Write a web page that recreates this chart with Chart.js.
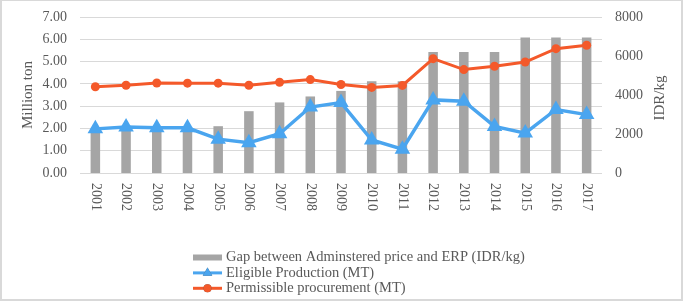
<!DOCTYPE html>
<html>
<head>
<meta charset="utf-8">
<script src="https://cdn.jsdelivr.net/npm/chart.js@4.4.1/dist/chart.umd.min.js"></script>
<style>
    html, body { margin: 0; padding: 0; background: #fff; }
    #wrap { position: relative; width: 685px; height: 304px; }
    #frame { position: absolute; left: 0; top: 0; width: 683px; height: 301px; border: 1px solid #d9d9d9; border-width: 1px 2px 2px 2px; box-sizing: border-box; pointer-events: none; }
</style>
</head>
<body>
<div id="wrap">
    <canvas id="gapchart" width="685" height="304"></canvas>
    <div id="frame"></div>
</div>
<script>
const years = ["2001", "2002", "2003", "2004", "2005", "2006", "2007", "2008", "2009",
    "2010", "2011", "2012", "2013", "2014", "2015", "2016", "2017"];
// IDR/kg, right axis
const gapPrice = [2200, 2200, 2200, 2200, 2400, 3170, 3620, 3925, 4210,
    4700, 4700, 6210, 6210, 6210, 6950, 6950, 6950];
// million ton, left axis
const eligibleProduction = [1.98, 2.06, 2.03, 2.03, 1.52, 1.36, 1.76, 2.96, 3.16,
    1.48, 1.07, 3.28, 3.22, 2.09, 1.79, 2.85, 2.62];
const permissibleProcurement = [3.87, 3.94, 4.04, 4.03, 4.03, 3.94, 4.07, 4.19, 3.97,
    3.84, 3.93, 5.13, 4.64, 4.79, 4.98, 5.58, 5.73];

const seriesNames = [
    "Gap between Adminstered price and ERP (IDR/kg)",
    "Eligible Production (MT)",
    "Permissible procurement (MT)",
];
const rightTitle = "IDR/kg";

const textColor = "#595959";
const fontFamily = "'Liberation Serif', 'Times New Roman', serif";

// x labels and the right title read the other way round from what
// Chart.js does, so they are drawn here instead of by the scales
const rotatedText = {
    id: "rotatedText",
    afterDraw(chart) {
        const ctx = chart.ctx;
        const xScale = chart.scales.x;
        const area = chart.chartArea;
        ctx.save();
        ctx.fillStyle = textColor;
        ctx.font = "14px " + fontFamily;
        ctx.textAlign = "left";
        ctx.textBaseline = "middle";
        chart.data.labels.forEach((label, i) => {
            ctx.save();
            ctx.translate(xScale.getPixelForValue(i), area.bottom + 10);
            ctx.rotate(Math.PI / 2);
            ctx.fillText(label, 0, 0);
            ctx.restore();
        });

        ctx.font = "15px " + fontFamily;
        ctx.textAlign = "center";
        ctx.translate(chart.scales.yRight.right - 25, (area.top + area.bottom) / 2 + 3);
        ctx.rotate(-Math.PI / 2);
        ctx.fillText(rightTitle, 0, 0);
        ctx.restore();
    },
};

// stacked legend under the plot
const stackedLegend = {
    id: "stackedLegend",
    afterDraw(chart) {
        const ctx = chart.ctx;
        const left = 193, width = 29, top = 257.5, step = 15.4;
        ctx.save();
        ctx.font = "14.5px " + fontFamily;
        ctx.textBaseline = "middle";
        ctx.textAlign = "left";
        chart.data.datasets.forEach((ds, i) => {
            const y = top + i * step;
            if (ds.type === "bar") {
                ctx.fillStyle = ds.backgroundColor;
                ctx.fillRect(left, y - 3, width, 6);
            } else {
                ctx.strokeStyle = ds.borderColor;
                ctx.lineWidth = 3;
                ctx.beginPath();
                ctx.moveTo(left, y);
                ctx.lineTo(left + width, y);
                ctx.stroke();
                Chart.helpers.drawPoint(ctx, {
                    pointStyle: ds.pointStyle,
                    radius: ds.pointStyle === "triangle" ? 5.5 : 4,
                    rotation: 0,
                    borderWidth: 0,
                }, left + width / 2, y);
                ctx.fillStyle = ds.borderColor;
                ctx.fill();
            }
            ctx.fillStyle = textColor;
            ctx.fillText(ds.label, left + width + 4, y);
        });
        ctx.restore();
    },
};

// y scales add tick padding above the top label; drop it so the plot starts higher
const fixYScale = (width) => (scale) => {
    scale.width = width;
    scale.paddingTop = 0;
    scale.paddingBottom = 0;
};

const ctx = document.getElementById("gapchart").getContext("2d");

new Chart(ctx, {
    data: {
        labels: years,
        datasets: [
            {
                type: "bar",
                label: seriesNames[0],
                data: gapPrice,
                yAxisID: "yRight",
                backgroundColor: "#a5a5a5",
                categoryPercentage: 1,
                barPercentage: 0.31,
                order: 3,
            },
            {
                type: "line",
                label: seriesNames[1],
                data: eligibleProduction,
                yAxisID: "yLeft",
                borderColor: "#4aa5ef",
                backgroundColor: "#4aa5ef",
                borderWidth: 3.5,
                pointStyle: "triangle",
                pointRadius: 9,
                pointBorderWidth: 0,
                tension: 0,
                order: 2,
            },
            {
                type: "line",
                label: seriesNames[2],
                data: permissibleProcurement,
                yAxisID: "yLeft",
                borderColor: "#f4592a",
                backgroundColor: "#f4592a",
                borderWidth: 3,
                pointStyle: "circle",
                pointRadius: 4.5,
                pointBorderWidth: 0,
                tension: 0,
                order: 1,
            },
        ],
    },
    options: {
        responsive: false,
        animation: false,
        layout: { autoPadding: false, padding: { top: 17, bottom: 0, left: 0, right: 0 } },
        plugins: {
            legend: { display: false },
            tooltip: { enabled: false },
        },
        scales: {
            x: {
                grid: { display: false },
                border: { display: false },
                ticks: { display: false },
                afterFit(scale) { scale.height = 131; },
            },
            yLeft: {
                position: "left",
                min: 0,
                max: 7,
                ticks: {
                    stepSize: 1,
                    padding: 13,
                    color: textColor,
                    font: { family: fontFamily, size: 14 },
                    callback: (v) => v.toFixed(2),
                },
                grid: { color: "#d9d9d9", lineWidth: 1, drawTicks: false },
                border: { display: false },
                title: {
                    display: true,
                    text: "Million ton",
                    color: textColor,
                    font: { family: fontFamily, size: 15 },
                    padding: { top: 19, bottom: 0 },
                },
                afterFit: fixYScale(80),
            },
            yRight: {
                position: "right",
                min: 0,
                max: 8000,
                ticks: {
                    stepSize: 1000,
                    padding: 13,
                    color: textColor,
                    font: { family: fontFamily, size: 14 },
                    callback: (v) => String(v),
                },
                grid: { display: false, drawTicks: false },
                border: { display: false },
                afterFit: fixYScale(83),
            },
        },
    },
    plugins: [rotatedText, stackedLegend],
});
</script>
</body>
</html>
